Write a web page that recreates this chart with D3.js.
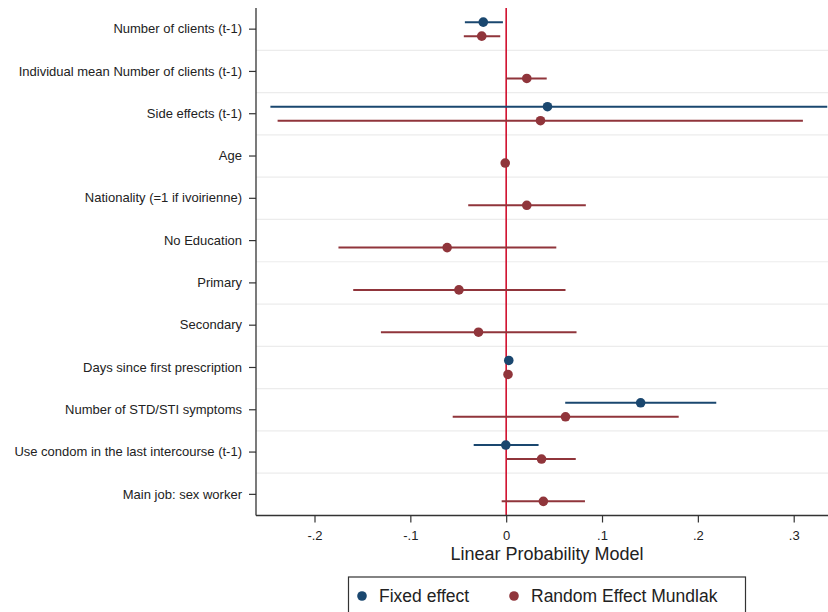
<!DOCTYPE html>
<html><head><meta charset="utf-8">
<script src="https://cdn.jsdelivr.net/npm/d3@7"></script>
<style>body{margin:0;background:#fff;}svg{display:block;font-family:"Liberation Sans",Arial,sans-serif;}</style>
</head><body><svg id="c" width="828" height="612"></svg>
<script>
const categories = ["Number of clients (t-1)","Individual mean Number of clients (t-1)","Side effects (t-1)","Age","Nationality (=1 if ivoirienne)","No Education","Primary","Secondary","Days since first prescription","Number of STD/STI symptoms","Use condom in the last intercourse (t-1)","Main job: sex worker"];
// Fixed effect: [category, estimate, lower, upper]
const fixedEffect = [
  ["Number of clients (t-1)", -0.0239, -0.0431, -0.0034],
  ["Side effects (t-1)", 0.0431, -0.246, 0.335],
  ["Days since first prescription", 0.0027, 0.0017, 0.0037],
  ["Number of STD/STI symptoms", 0.1403, 0.0616, 0.2192],
  ["Use condom in the last intercourse (t-1)", -0.0004, -0.0339, 0.0338]
];
const randomEffect = [
  ["Number of clients (t-1)", -0.0255, -0.0442, -0.0062],
  ["Individual mean Number of clients (t-1)", 0.0215, 0.0, 0.0423],
  ["Side effects (t-1)", 0.0358, -0.2385, 0.3096],
  ["Age", -0.0010, -0.0018, -0.0002],
  ["Nationality (=1 if ivoirienne)", 0.0215, -0.0396, 0.0831],
  ["No Education", -0.0616, -0.175, 0.0523],
  ["Primary", -0.0493, -0.1596, 0.0619],
  ["Secondary", -0.0289, -0.1307, 0.0734],
  ["Days since first prescription", 0.0019, 0.0010, 0.0028],
  ["Number of STD/STI symptoms", 0.0619, -0.0558, 0.18],
  ["Use condom in the last intercourse (t-1)", 0.0369, 0.0007, 0.0726],
  ["Main job: sex worker", 0.0388, -0.0047, 0.0822]
];
const xTicks = [-0.2,-0.1,0,0.1,0.2,0.3];
const xTickLabels = ["-.2","-.1","0",".1",".2",".3"];
const seriesNames = ["Fixed effect","Random Effect Mundlak"];

const svg = d3.select("#c");
const blue = "#1a476f", red = "#90353b", refCol = "#d0102e";
const pLeft = 256, pTop = 8, pBottom = 515.5, pRight = 845;
const x = d3.scaleLinear().domain([-0.2,0.3]).range([314.5,793.7]);
const xMin = x.invert(pLeft), xMax = x.invert(pRight);
const y = d3.scaleBand().domain(categories).range([pTop,pBottom]);
const off = 7;

const g = svg.append("g");
g.selectAll("line.grid").data(categories.slice(1)).enter().append("line")
  .attr("class","grid")
  .attr("x1",pLeft).attr("x2",pRight)
  .attr("y1",d=>y(d)).attr("y2",d=>y(d))
  .attr("stroke","#ececec").attr("stroke-width",1.2);

g.append("line").attr("x1",x(0)).attr("x2",x(0)).attr("y1",pTop).attr("y2",pBottom)
  .attr("stroke",refCol).attr("stroke-width",1.6);

function drawSeries(data,color,dy){
  const s = g.append("g");
  s.selectAll("line").data(data).enter().append("line")
    .attr("x1",d=>x(Math.max(d[2],xMin))).attr("x2",d=>x(Math.min(d[3],xMax)))
    .attr("y1",d=>y(d[0])+y.bandwidth()/2+dy).attr("y2",d=>y(d[0])+y.bandwidth()/2+dy)
    .attr("stroke",color).attr("stroke-width",2);
  s.selectAll("circle").data(data).enter().append("circle")
    .attr("cx",d=>x(d[1])).attr("cy",d=>y(d[0])+y.bandwidth()/2+dy)
    .attr("r",4.8).attr("fill",color);
}
drawSeries(fixedEffect,blue,-off);
drawSeries(randomEffect,red,off);

const yAxis = d3.axisLeft(y).tickSize(7).tickPadding(7);
const ya = svg.append("g").attr("transform",`translate(${pLeft},0)`).call(yAxis);
ya.select(".domain").attr("stroke","#333").attr("stroke-width",1.3).attr("d",`M0,${pTop}V${pBottom}`);
ya.selectAll(".tick line").attr("stroke","#333").attr("stroke-width",1.2);
ya.selectAll(".tick text").attr("font-size",13).attr("fill","#222").attr("font-family","Liberation Sans, Arial, sans-serif");

const xAxis = d3.axisBottom(x).tickValues(xTicks).tickFormat((d,i)=>xTickLabels[i]).tickSize(7).tickPadding(8);
const xa = svg.append("g").attr("transform",`translate(0,${pBottom})`).call(xAxis);
xa.select(".domain").attr("stroke","#333").attr("stroke-width",1.3).attr("d",`M${pLeft},0H${pRight}`);
xa.selectAll(".tick line").attr("stroke","#333").attr("stroke-width",1.2);
xa.selectAll(".tick text").attr("font-size",13).attr("fill","#222").attr("font-family","Liberation Sans, Arial, sans-serif");

svg.append("text").attr("x",547).attr("y",560).attr("text-anchor","middle")
  .attr("font-size",18).attr("fill","#222").text("Linear Probability Model");

const lg = svg.append("g");
lg.append("rect").attr("x",348.5).attr("y",577).attr("width",397).attr("height",45)
  .attr("fill","#fff").attr("stroke","#333").attr("stroke-width",1.2);
const items = [{n:seriesNames[0],c:blue,x:362},{n:seriesNames[1],c:red,x:514}];
items.forEach(it=>{
  lg.append("circle").attr("cx",it.x).attr("cy",596).attr("r",4.8).attr("fill",it.c);
  lg.append("text").attr("x",it.x+17).attr("y",602).attr("font-size",17.5).attr("fill","#222").text(it.n);
});
</script></body></html>
